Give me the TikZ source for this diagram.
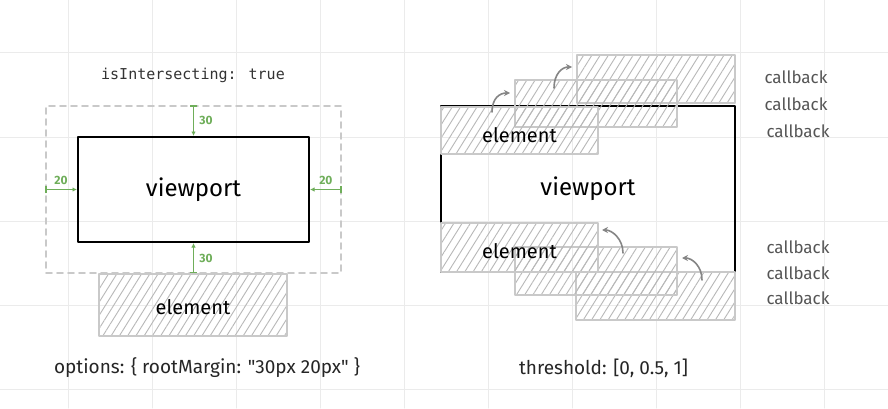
\documentclass[tikz,border=0pt]{standalone}
\usepackage{fontspec}
\setmainfont{Fira Sans}
\newfontfamily\codefont{DejaVu Sans Mono}
\newfontfamily\notefont{Fira Sans}
\usetikzlibrary{arrows.meta,patterns.meta,calc}
\definecolor{cGreen}{HTML}{6FAE5A}
\definecolor{cGrid}{HTML}{EBEBEB}
\definecolor{cBorder}{HTML}{C9C9C9}
\definecolor{cHatch}{HTML}{B8B8B8}
\definecolor{cText}{HTML}{555555}

\begin{document}
\begin{tikzpicture}[
 x=1pt,y=1pt,font=\fontsize{18}{20}\selectfont,
 line cap=round,line join=round,
 gridline/.style={draw=cGrid,line width=1pt},
 vport/.style={draw=black,line width=2pt,inner sep=0pt,font=\fontsize{24}{26}\selectfont},
 rootbox/.style={draw=cBorder,line width=1.6pt,dash pattern=on 6pt off 5pt,inner sep=0pt},
 elem/.style={draw=cBorder,line width=2.4pt,inner sep=0pt,
   pattern={Lines[angle=58,distance=7pt,line width=.9pt]},pattern color=cHatch,
   font=\fontsize{20}{22}\selectfont},
 rmargin/.style={draw=cGreen,line width=1.6pt,{Bar[width=7pt]}-{Latex[length=4.5pt,width=4.5pt]}},
 gaptext/.style={text=cGreen,font=\fontsize{12}{13}\selectfont\bfseries,inner sep=0pt},
 hop/.style={draw=black!48,line width=1.6pt,-{Stealth[length=6pt,width=6pt]}},
 cbtext/.style={text=cText,font=\fontsize{17}{19}\selectfont},
 note/.style={text=black!85,font=\notefont\fontsize{19}{21}\selectfont}]
\path[use as bounding box,fill=white] (0,0) rectangle (888,408);

% background grid
\foreach \i in {0,...,9}
  \draw[gridline] ({68+84*\i},0) -- ({68+84*\i},408);
\foreach \j in {0,...,4}
  \draw[gridline] (0,{19+84*\j}) -- (888,{19+84*\j});

% left: rootMargin
\node[font=\codefont\fontsize{15}{17}\selectfont,text=black!80] (isect) at (193,333) {isIntersecting: true};
\node[rootbox,minimum width=295,minimum height=167] (rootL) at (193.5,218.5) {};
\node[vport,minimum width=231,minimum height=105] (vpL) at (193.5,218.5) {viewport};
\draw[rmargin] (rootL.north) -- node[gaptext,anchor=west,xshift=5pt] {30} (vpL.north);
\draw[rmargin] (rootL.south) -- node[gaptext,anchor=west,xshift=5pt] {30} (vpL.south);
\draw[rmargin] (rootL.west) -- node[gaptext,above=4pt] {20} (vpL.west);
\draw[rmargin] (rootL.east) -- node[gaptext,above=4pt] {20} (vpL.east);
\node[elem,minimum width=188,minimum height=62,text height=20pt] (elL) at (193,103) {element};
\node[note] (optn) at (207,40) {options: \{ rootMargin: "30px 20px" \}};

% right: threshold
\node[vport,line width=1.6pt,minimum width=294,minimum height=166] (vpR) at (588,219) {viewport};
\node[elem,minimum width=158,minimum height=48] (upC) at (656,329) {};
\node[elem,minimum width=162,minimum height=47] (upB) at (596,304.5) {};
\node[elem,minimum width=157,minimum height=47,text height=24pt] (upA) at (519.5,277.5) {element};
\node[elem,minimum width=159,minimum height=48] (dnC) at (655.5,112) {};
\node[elem,minimum width=162,minimum height=48] (dnB) at (596,137) {};
\node[elem,minimum width=157,minimum height=49,text height=23pt] (dnA) at (519.5,160.5) {element};

\coordinate (h1s) at (492,296); \coordinate (h1e) at (510,315);
\coordinate (h2s) at (554,320); \coordinate (h2e) at (572,341);
\coordinate (h3s) at (623,155); \coordinate (h3e) at (602,178);
\coordinate (h4s) at (702,128); \coordinate (h4e) at (682,150);
\draw[hop] (h1s) .. controls +(0,14) and +(-10,0) .. (h1e);
\draw[hop] (h2s) .. controls +(0,14) and +(-10,0) .. (h2e);
\draw[hop] (h3s) .. controls +(0,14) and +(10,0) .. (h3e);
\draw[hop] (h4s) .. controls +(0,14) and +(10,0) .. (h4e);

\node[cbtext] (cbU1) at (796,331) {callback};
\node[cbtext] (cbU2) at (796,304) {callback};
\node[cbtext] (cbU3) at (798,277) {callback};
\node[cbtext] (cbD1) at (798,161) {callback};
\node[cbtext] (cbD2) at (798,135) {callback};
\node[cbtext] (cbD3) at (798,110) {callback};
\node[note] (thr) at (603.5,40) {threshold: [0, 0.5, 1]};
\end{tikzpicture}
\end{document}
